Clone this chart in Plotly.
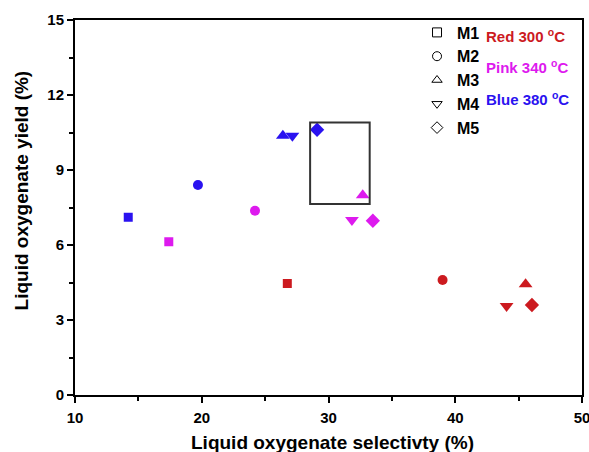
import plotly.graph_objects as go

# Liquid oxygenate selectivity (%) and yield (%) for catalysts M1..M5 at each temperature
catalysts = ["M1", "M2", "M3", "M4", "M5"]
symbols = ["square", "circle", "triangle-up", "triangle-down", "diamond"]
symbol_sizes = [9, 10, 12, 12, 11]

sel_300 = [26.75, 39.0, 45.55, 44.05, 46.05]
yld_300 = [4.46, 4.60, 4.43, 3.56, 3.60]

sel_340 = [17.4, 24.2, 32.7, 31.85, 33.5]
yld_340 = [6.13, 7.37, 7.99, 7.00, 6.97]

sel_380 = [14.2, 19.7, 26.4, 27.15, 29.1]
yld_380 = [7.11, 8.40, 10.37, 10.37, 10.61]

temp_labels = ["Red 300 <sup>o</sup>C", "Pink 340 <sup>o</sup>C", "Blue 380 <sup>o</sup>C"]
temp_colors = ["#CC1A1F", "#DD1AEE", "#2A12F0"]

# Highlight box (selectivity range, yield range)
box_x = [28.55, 33.25]
box_y = [7.64, 10.9]

series = [(sel_300, yld_300), (sel_340, yld_340), (sel_380, yld_380)]

FONT = "Liberation Sans, Arial, sans-serif"

fig = go.Figure()

for (xs, ys), col in zip(series, temp_colors):
    for i in range(len(catalysts)):
        fig.add_trace(go.Scatter(
            x=[xs[i]], y=[ys[i]], mode="markers",
            marker=dict(symbol=symbols[i], size=symbol_sizes[i], color=col,
                        line=dict(width=0)),
            showlegend=False, hoverinfo="x+y",
        ))

# Legend entries: open black symbols
for i, name in enumerate(catalysts):
    fig.add_trace(go.Scatter(
        x=[None], y=[None], mode="markers", name="<b>" + name + "</b>",
        marker=dict(symbol=symbols[i], size=9, color="white",
                    line=dict(color="black", width=1)),
    ))

fig.add_shape(type="rect", xref="x", yref="y",
              x0=box_x[0], x1=box_x[1], y0=box_y[0], y1=box_y[1],
              line=dict(color="#333333", width=2), fillcolor="rgba(0,0,0,0)")

label_y = [0.9586, 0.8757, 0.7901]
for txt, col, yy in zip(temp_labels, temp_colors, label_y):
    fig.add_annotation(x=0.8067, y=yy, xref="paper", yref="paper",
                       text="<b>" + txt + "</b>", showarrow=False,
                       xanchor="left", yanchor="middle",
                       font=dict(size=15, color=col, family=FONT))

# Axis titles
fig.add_annotation(x=0.508, y=-0.1257, xref="paper", yref="paper",
                   text="<b>Liquid oxygenate selectivty (%)</b>", showarrow=False,
                   xanchor="center", yanchor="middle",
                   font=dict(size=19, color="black", family=FONT))
fig.add_annotation(x=-0.1065, y=0.5455, xref="paper", yref="paper",
                   text="<b>Liquid oxygenate yield (%)</b>", showarrow=False,
                   textangle=-90, xanchor="center", yanchor="middle",
                   font=dict(size=19, color="black", family=FONT))

axis_common = dict(
    showline=True, linecolor="black", linewidth=2, mirror=True,
    ticks="outside", ticklen=6, tickwidth=2, tickcolor="black",
    showgrid=False, zeroline=False, automargin=False,
    ticklabeloverflow="allow",
    tickfont=dict(size=15, color="black", family=FONT),
    tickprefix="<b>", ticksuffix="</b>",
)

fig.update_xaxes(
    range=[10, 50], dtick=10, tick0=10, ticklabelstandoff=2,
    minor=dict(ticks="outside", ticklen=4, tickwidth=2, tickcolor="black", dtick=5),
    **axis_common,
)
fig.update_yaxes(
    range=[0, 15], dtick=3, tick0=0,
    minor=dict(ticks="outside", ticklen=4, tickwidth=2, tickcolor="black", dtick=1.5),
    **axis_common,
)

fig.update_layout(
    width=589, height=452,
    margin=dict(l=75, r=7, t=20, b=57),
    plot_bgcolor="white", paper_bgcolor="white",
    legend=dict(x=0.6746, y=1.012, xanchor="left", yanchor="top",
                bgcolor="rgba(0,0,0,0)",
                font=dict(size=16, color="black", family=FONT),
                itemwidth=30),
    font=dict(family=FONT),
    showlegend=True,
)

fig.write_html("out.html")
